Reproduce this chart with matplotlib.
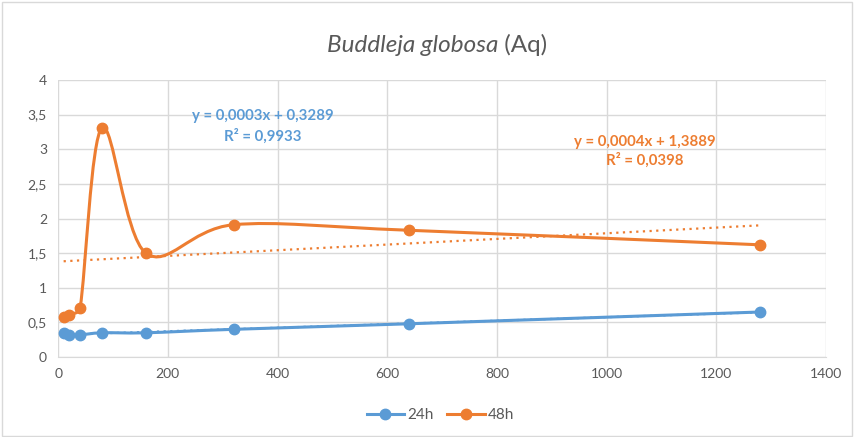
import numpy as np
import matplotlib.pyplot as plt
from matplotlib.path import Path
from matplotlib.patches import PathPatch, Rectangle
from matplotlib.lines import Line2D
from matplotlib.ticker import FuncFormatter, MultipleLocator

plt.rcParams['font.family'] = ['Lato', 'DejaVu Sans']

# Data
conc = [10, 20, 40, 80, 160, 320, 640, 1280]
abs_24h = [0.35, 0.32, 0.32, 0.35, 0.35, 0.40, 0.48, 0.65]
abs_48h = [0.58, 0.61, 0.71, 3.31, 1.50, 1.91, 1.83, 1.62]
series_names = ['24h', '48h']
eq_24h = ['y = 0,0003x + 0,3289', 'R² = 0,9933']
eq_48h = ['y = 0,0004x + 1,3889', 'R² = 0,0398']

BLUE = '#5B9BD5'
ORANGE = '#ED7D31'
GRAY = '#595959'
GRID = '#D9D9D9'

XMAX, YMAX = 1400, 4


def smooth_path(x, y, sx, sy):
    # Excel-like smoothed line: cubic Bezier segments with Catmull-Rom tangents,
    # tangent length capped relative to the segment length (in pixel space)
    pts = np.column_stack([x, y]).astype(float)
    scale = np.array([sx, sy])
    n = len(pts)
    verts = [pts[0]]
    codes = [Path.MOVETO]

    def capped(t, seg):
        tl = np.hypot(*(t * scale))
        sl = np.hypot(*(seg * scale))
        lim = 0.5 * sl
        return t * (lim / tl) if tl > lim else t

    for i in range(n - 1):
        p0 = pts[i - 1] if i > 0 else pts[i]
        p1 = pts[i]
        p2 = pts[i + 1]
        p3 = pts[i + 2] if i + 2 < n else pts[i + 1]
        seg = p2 - p1
        verts += [p1 + capped((p2 - p0) / 6, seg), p2 - capped((p3 - p1) / 6, seg), p2]
        codes += [Path.CURVE4] * 3
    return Path(verts, codes)


fig = plt.figure(figsize=(8.55, 4.37), dpi=100)
fig.patches.append(Rectangle((0.002, 0.003), 0.995, 0.993, transform=fig.transFigure,
                             fill=False, edgecolor=GRID, linewidth=1))
ax_rect = [0.068, 0.183, 0.898, 0.634]
ax = fig.add_axes(ax_rect)
px_x = ax_rect[2] * 855 / XMAX
px_y = ax_rect[3] * 437 / YMAX

for ys, color in [(abs_24h, BLUE), (abs_48h, ORANGE)]:
    # linear trendline
    slope, icpt = np.polyfit(conc, ys, 1)
    xt = np.array([min(conc), max(conc)])
    ax.plot(xt, icpt + slope * xt, color=color, linewidth=1.6,
            linestyle=(0, (1, 2)), zorder=2)
    # smoothed series line and markers
    ax.add_patch(PathPatch(smooth_path(conc, ys, px_x, px_y), facecolor='none',
                           edgecolor=color, linewidth=2.2, zorder=3))
    ax.plot(conc, ys, linestyle='none', marker='o', markersize=7.5, color=color, zorder=4)

ax.set_xlim(0, XMAX)
ax.set_ylim(0, YMAX)
ax.xaxis.set_major_locator(MultipleLocator(200))
ax.yaxis.set_major_locator(MultipleLocator(0.5))
ax.yaxis.set_major_formatter(FuncFormatter(lambda v, p: f'{v:g}'.replace('.', ',')))
ax.grid(True, color=GRID, linewidth=1)
ax.set_axisbelow(True)
for side in ['top', 'right', 'left']:
    ax.spines[side].set_visible(False)
ax.spines['bottom'].set_color(GRID)
ax.tick_params(length=0, labelsize=10, labelcolor=GRAY, pad=8)

eq_kw = dict(fontsize=10.8, fontweight='bold', ha='center', va='center')
ax.text(374, 3.48, eq_24h[0], color=BLUE, **eq_kw)
ax.text(374, 3.19, eq_24h[1], color=BLUE, **eq_kw)
ax.text(1070, 3.10, eq_48h[0], color=ORANGE, **eq_kw)
ax.text(1070, 2.84, eq_48h[1], color=ORANGE, **eq_kw)

# title: italic species name + upright "(Aq)", centered as a whole
renderer = fig.canvas.get_renderer()
t1 = fig.text(0, 0.897, 'Buddleja globosa', style='italic', color=GRAY, fontsize=17.5,
              ha='left', va='center')
t2 = fig.text(0, 0.897, ' (Aq)', color=GRAY, fontsize=17.5, ha='left', va='center')
w1 = t1.get_window_extent(renderer).width / 855
w2 = t2.get_window_extent(renderer).width / 855
x0 = 437 / 855 - (w1 + w2) / 2
t1.set_x(x0)
t2.set_x(x0 + w1)

handles = [Line2D([0], [0], color=c, linewidth=2.2, marker='o', markersize=7.5, label=n)
           for c, n in zip([BLUE, ORANGE], series_names)]
leg = fig.legend(handles=handles, loc='center', bbox_to_anchor=(0.515, 0.05), ncol=2,
                 frameon=False, fontsize=11, handlelength=2.45, columnspacing=0.9,
                 handletextpad=0.2)
for t in leg.get_texts():
    t.set_color(GRAY)

fig.savefig('out.png', dpi=100)
